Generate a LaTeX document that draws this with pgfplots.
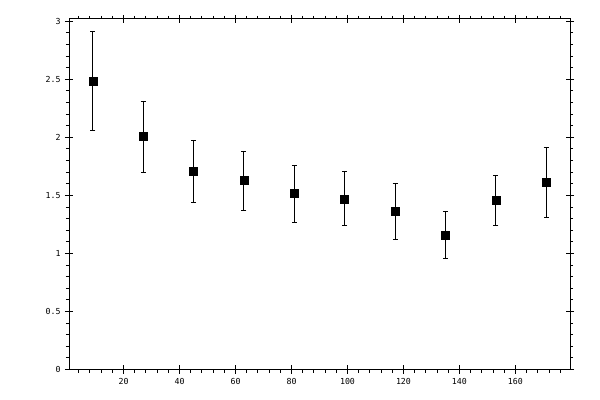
\documentclass[border=0pt]{standalone}
\usepackage{pgfplots}
\pgfplotsset{compat=1.18}
\usepackage{fontspec}
\setmonofont{DejaVu Sans Mono}

\begin{document}
\begin{tikzpicture}
\pgfplotsset{
  base/.style={
    scale only axis, width=501bp, height=350.5bp,
    xmin=0.5, xmax=179.5, ymin=0, ymax=3.02,
    xtick={20,40,...,160}, ytick={0,0.5,...,3},
    axis line style={line width=1bp},
    tick style={line width=1bp, black},
    tick label style={font=\ttfamily\fontsize{8.3}{9}\selectfont},
    /pgf/number format/assume math mode=true,
    xtick pos=both, ytick pos=both,
  }
}
\begin{axis}[base,
  name=main,
  tick align=outside,
  major tick length=4bp, minor tick length=3bp,
  minor xtick={4,8,...,176},
  minor ytick={0.1,0.2,...,2.95},
  xticklabel style={yshift=-1bp},
  yticklabel style={xshift=-1bp},
]
\addplot[black, only marks, mark=square*, mark size=4bp,
  error bars/.cd, y dir=both, y explicit,
  error bar style={line width=1bp},
  error mark options={rotate=90, mark size=2.5bp, line width=1bp}]
coordinates {
  (9,2.48)   += (0,0.43)  -= (0,0.42)
  (27,2.01)  += (0,0.30)  -= (0,0.31)
  (45,1.71)  += (0,0.26)  -= (0,0.27)
  (63,1.63)  += (0,0.25)  -= (0,0.26)
  (81,1.52)  += (0,0.24)  -= (0,0.25)
  (99,1.47)  += (0,0.24)  -= (0,0.23)
  (117,1.36) += (0,0.24)  -= (0,0.24)
  (135,1.155) += (0,0.205) -= (0,0.195)
  (153,1.457) += (0,0.213) -= (0,0.217)
  (171,1.61) += (0,0.30)  -= (0,0.30)
};
\end{axis}
% major ticks also reach inside the box
\begin{axis}[base,
  tick align=inside, major tick length=4bp,
  xticklabels={}, yticklabels={},
]
\end{axis}
\path ([xshift=-69bp,yshift=-30.5bp]main.south west)
  rectangle ([xshift=30bp,yshift=19bp]main.north east);
\end{tikzpicture}
\end{document}
